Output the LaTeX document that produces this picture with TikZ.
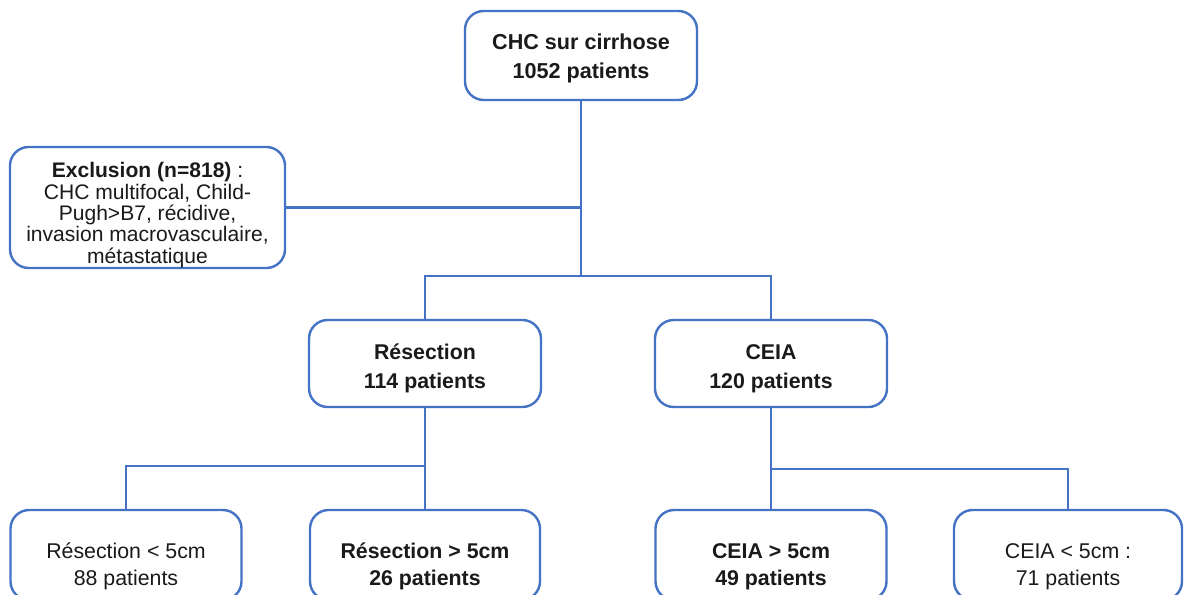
\documentclass[tikz,border=0pt]{standalone}
\usepackage{fontspec}
\setmainfont{Liberation Sans}
\definecolor{lineblue}{HTML}{4472C4}
\definecolor{txt}{HTML}{1A1A1A}
\tikzset{
  box/.style={draw=lineblue, line width=1.8pt, rounded corners=14pt, fill=white,
    inner sep=0pt, align=center, text=txt, text depth=0pt, font=\fontsize{16}{20}\selectfont},
  topbox/.style={box, font=\fontsize{16.2}{21.5}\selectfont\bfseries},
  midbox/.style={box, font=\fontsize{16}{21.5}\selectfont\bfseries},
  lowbox/.style={box, font=\fontsize{16}{20}\selectfont},
  lowboldbox/.style={box, font=\fontsize{16}{20}\selectfont\bfseries},
  exbox/.style={box, font=\fontsize{15.8}{16}\selectfont},
  conn/.style={draw=lineblue, line width=1.8pt}
}
\begin{document}
\begin{tikzpicture}[x=0.75pt,y=-0.75pt]
\clip (0,0) rectangle (1184,595);
\fill[white] (0,0) rectangle (1184,595);
% nodes
\node[topbox, minimum width=174pt, minimum height=66.75pt, text height=34.5pt] (top) at (581,55.5) {CHC sur cirrhose\\1052 patients};
\node[exbox, minimum width=206.25pt, minimum height=90.75pt, text height=83.25pt] (excl) at (147.5,207.5)
  {\textbf{Exclusion (n=818)} :\\CHC multifocal, Child-\\Pugh>B7, récidive,\\invasion macrovasculaire,\\métastatique};
\node[midbox, minimum width=174pt, minimum height=65.25pt, text height=36.75pt] (res) at (425,363.5) {Résection\\114 patients};
\node[midbox, minimum width=174pt, minimum height=65.25pt, text height=36.75pt] (ceia) at (771,363.5) {CEIA\\120 patients};
\node[lowbox, minimum width=173.25pt, minimum height=67.5pt, text height=45pt] (r1) at (126,555) {Résection < 5cm\\88 patients};
\node[lowboldbox, minimum width=172.5pt, minimum height=67.5pt, text height=45pt] (r2) at (425,555) {Résection > 5cm\\26 patients};
\node[lowboldbox, minimum width=173.25pt, minimum height=67.5pt, text height=45pt] (c1) at (771,555) {CEIA > 5cm\\49 patients};
\node[lowbox, minimum width=171pt, minimum height=67.5pt, text height=45pt] (c2) at (1068,555) {CEIA < 5cm :\\71 patients};
% junction levels
\coordinate (h1) at (0,276);
\coordinate (h2) at (0,466);
\coordinate (h3) at (0,469);
% connectors
\draw[conn] (top.south) -- (top.south |- h1);
\draw[conn] (excl.east) -- (excl.east -| top.south);
\draw[conn] (res.north) |- (top.south |- h1);
\draw[conn] (ceia.north) |- (top.south |- h1);
\draw[conn] (res.south) -- (res.south |- h2);
\draw[conn] (r1.north) |- (res.south |- h2);
\draw[conn] (r2.north) -- (res.south |- h2);
\draw[conn] (ceia.south) -- (ceia.south |- h3);
\draw[conn] (c1.north) -- (ceia.south |- h3);
\draw[conn] (c2.north) |- (ceia.south |- h3);
\end{tikzpicture}
\end{document}
